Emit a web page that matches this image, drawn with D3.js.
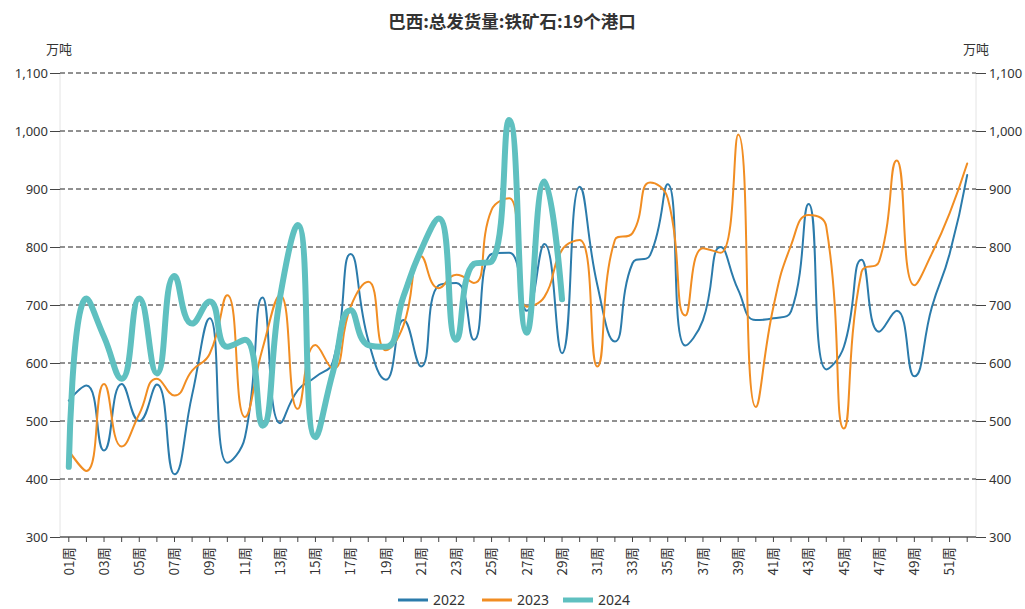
<!DOCTYPE html>
<html>
<head>
<meta charset="utf-8">
<script src="https://cdn.jsdelivr.net/npm/d3@7"></script>
<style>
  body { margin: 0; background: #fff; }
  svg text { font-family: "Noto Sans CJK SC", "Noto Sans", sans-serif; fill: #333; }
</style>
</head>
<body>
<div id="chart"></div>
<script>
// 周 (1-52)
const weeks = d3.range(1, 53).map(i => String(i).padStart(2, '0') + '周');
const yTicks = [300, 400, 500, 600, 700, 800, 900, 1000, 1100];

const v2022 = [535, 561, 449, 564, 500, 563, 408, 545, 677, 428, 472, 713, 496, 553, 576, 603, 788, 639, 571, 674,
  594, 734, 738, 640, 788, 790, 690, 805, 617, 904, 735, 637, 772, 786, 908, 630, 674, 800, 726, 674,
  677, 689, 874, 589, 628, 778, 654, 690, 577, 697, 788, 924];
const v2023 = [449, 414, 564, 456, 512, 573, 544, 587, 616, 717, 507, 625, 717, 521, 631, 590, 697, 740, 622, 665,
  784, 729, 752, 738, 864, 884, 697, 714, 795, 812, 594, 812, 824, 911, 884, 682, 798, 790, 994, 524,
  697, 803, 855, 835, 487, 757, 775, 949, 734, 789, 858, 944];
const v2024 = [421, 711, 645, 573, 711, 582, 750, 668, 706, 628, 640, 492, 715, 838, 472, 585, 691, 631, 628, 715,
  795, 849, 640, 771, 775, 1019, 652, 913, 710];

const series = [
  { name: '2022', values: v2022, color: '#2b7bab', width: 2 },
  { name: '2023', values: v2023, color: '#f18d22', width: 2 },
  { name: '2024', values: v2024, color: '#5fc0c0', width: 6 }
];

const width = 1025, height = 609;
const mLeft = 60, mRight = 976, mTop = 73, mBottom = 537;

// Glättung wie bei echarts (smooth 0.5, Kontrollpunkte begrenzt)
function curveSmooth(context) {
  let pts;
  return {
    areaStart() {}, areaEnd() {},
    lineStart() { pts = []; },
    point(x, y) { pts.push([+x, +y]); },
    lineEnd() {
      const s = 0.5;
      let cpx0, cpy0, px, py;
      pts.forEach(([x, y], i) => {
        if (i === 0) {
          context.moveTo(x, y);
          cpx0 = x; cpy0 = y;
        } else {
          let cpx1, cpy1, ncx = x, ncy = y;
          if (i === pts.length - 1) {
            cpx1 = x; cpy1 = y;
          } else {
            const [nx, ny] = pts[i + 1];
            let vx = nx - px, vy = ny - py;
            const lp = Math.hypot(x - px, y - py);
            const ln = Math.hypot(nx - x, ny - y);
            const r = ln / (ln + lp);
            ncx = x + vx * s * r;
            ncy = y + vy * s * r;
            ncx = Math.max(Math.min(ncx, Math.max(nx, x)), Math.min(nx, x));
            ncy = Math.max(Math.min(ncy, Math.max(ny, y)), Math.min(ny, y));
            vx = ncx - x; vy = ncy - y;
            cpx1 = x - vx * lp / ln;
            cpy1 = y - vy * lp / ln;
            cpx1 = Math.max(Math.min(cpx1, Math.max(px, x)), Math.min(px, x));
            cpy1 = Math.max(Math.min(cpy1, Math.max(py, y)), Math.min(py, y));
            vx = x - cpx1; vy = y - cpy1;
            ncx = x + vx * ln / lp;
            ncy = y + vy * ln / lp;
          }
          context.bezierCurveTo(cpx0, cpy0, cpx1, cpy1, x, y);
          cpx0 = ncx; cpy0 = ncy;
        }
        px = x; py = y;
      });
    }
  };
}

const svg = d3.select('#chart').append('svg')
  .attr('width', width)
  .attr('height', height);

const x = d3.scaleBand().domain(weeks).range([mLeft, mRight]);
const xc = d => x(d) + x.bandwidth() / 2;
const y = d3.scaleLinear().domain([300, 1100]).range([mBottom, mTop]);

// Titel
svg.append('text')
  .attr('x', 512).attr('y', 28)
  .attr('text-anchor', 'middle')
  .style('font-size', '17.5px').style('font-weight', 'bold')
  .text('巴西:总发货量:铁矿石:19个港口');

svg.append('text').attr('x', 59).attr('y', 54).attr('text-anchor', 'middle')
  .style('font-size', '13px').text('万吨');
svg.append('text').attr('x', 976).attr('y', 54).attr('text-anchor', 'middle')
  .style('font-size', '13px').text('万吨');

// Seitenlinien
svg.append('g').selectAll('line')
  .data([mLeft, mRight])
  .enter().append('line')
  .attr('x1', d => d).attr('x2', d => d)
  .attr('y1', mTop).attr('y2', mBottom)
  .attr('stroke', '#e4e4e4');

// Gitterlinien
svg.append('g').selectAll('line')
  .data(yTicks.filter(d => d > 300))
  .enter().append('line')
  .attr('x1', mLeft).attr('x2', mRight)
  .attr('y1', d => y(d)).attr('y2', d => y(d))
  .attr('stroke', '#222')
  .attr('stroke-dasharray', '5,3');

// y-Achsen links und rechts
const fmt = d3.format(',');
const yl = svg.append('g').attr('transform', `translate(${mLeft},0)`)
  .call(d3.axisLeft(y).tickValues(yTicks).tickFormat(fmt).tickSize(10).tickPadding(2));
const yr = svg.append('g').attr('transform', `translate(${mRight},0)`)
  .call(d3.axisRight(y).tickValues(yTicks).tickFormat(fmt).tickSize(10).tickPadding(3));
[yl, yr].forEach(g => {
  g.select('.domain').remove();
  g.selectAll('line').attr('stroke', '#444');
  g.selectAll('text').style('font-size', '13px').style('font-family', '"Noto Sans", sans-serif').attr('fill', '#333');
});

// Linien
const line = d3.line()
  .x((d, i) => xc(weeks[i]))
  .y(d => y(d))
  .curve(curveSmooth);

svg.append('g').selectAll('path')
  .data(series)
  .enter().append('path')
  .attr('d', d => line(d.values))
  .attr('fill', 'none')
  .attr('stroke', d => d.color)
  .attr('stroke-width', d => d.width)
  .attr('stroke-linejoin', 'round')
  .attr('stroke-linecap', 'round');

// x-Achse
const xa = svg.append('g').attr('transform', `translate(0,${mBottom})`)
  .call(d3.axisBottom(x).tickSize(5).tickFormat((d, i) => i % 2 === 0 ? d : ''));
xa.select('.domain').attr('stroke', '#555').attr('stroke-width', 1.5)
  .attr('d', `M${mLeft},0H${mRight}`);
xa.selectAll('line').attr('stroke', '#444');
xa.selectAll('text')
  .style('font-size', '13.5px')
  .attr('fill', '#333')
  .attr('transform', 'rotate(-90)')
  .attr('text-anchor', 'end')
  .attr('x', -10).attr('y', 0).attr('dy', '0.35em');

// Legende
const legend = svg.append('g').selectAll('g')
  .data(series)
  .enter().append('g')
  .attr('transform', (d, i) => `translate(${[398, 482, 563][i]},600)`);
legend.append('line')
  .attr('x1', 0).attr('x2', 30).attr('y1', 0).attr('y2', 0)
  .attr('stroke', d => d.color)
  .attr('stroke-width', d => d.width === 6 ? 5 : 3);
legend.append('text')
  .attr('x', 35).attr('y', 0).attr('dy', '0.35em')
  .style('font-size', '14px').style('font-family', '"Noto Sans", sans-serif')
  .text(d => d.name);
</script>
</body>
</html>
